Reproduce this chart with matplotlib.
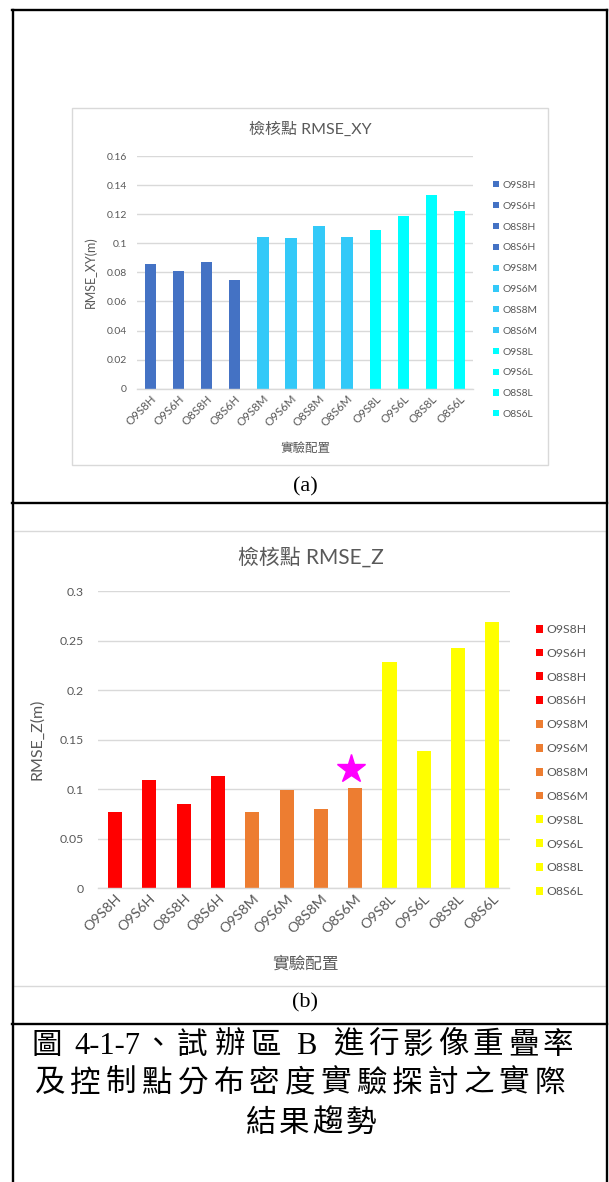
import matplotlib
matplotlib.use("Agg")
import matplotlib.pyplot as plt
from matplotlib.patches import Rectangle
from matplotlib.lines import Line2D

plt.rcParams['font.family'] = ['Lato', 'Noto Sans CJK TC', 'DejaVu Sans']

# ---------------- data ----------------
configs = ["O9S8H", "O9S6H", "O8S8H", "O8S6H",
           "O9S8M", "O9S6M", "O8S8M", "O8S6M",
           "O9S8L", "O9S6L", "O8S8L", "O8S6L"]
rmse_xy = [0.086, 0.081, 0.087, 0.0745,
           0.104, 0.1035, 0.112, 0.104,
           0.109, 0.119, 0.1335, 0.122]
rmse_z = [0.077, 0.109, 0.085, 0.113,
          0.077, 0.0995, 0.080, 0.101,
          0.228, 0.139, 0.242, 0.269]
xy_colors = ["#4472C4"] * 4 + ["#33C9F8"] * 4 + ["#00FFFF"] * 4
z_colors = ["#FF0000"] * 4 + ["#ED7D31"] * 4 + ["#FFFF00"] * 4
star_x = 6.87
star_y = 0.12

title_xy = "檢核點 RMSE_XY"
title_z = "檢核點 RMSE_Z"
ylabel_xy = "RMSE_XY(m)"
ylabel_z = "RMSE_Z(m)"
xlabel = "實驗配置"
yticks_xy = [0, 0.02, 0.04, 0.06, 0.08, 0.1, 0.12, 0.14, 0.16]
yticks_z = [0, 0.05, 0.1, 0.15, 0.2, 0.25, 0.3]
caption_line1 = ["圖", "4-1-7", "、", "試", "辦", "區", "B", "進", "行", "影", "像", "重", "疊", "率"]
caption_line2 = list("及控制點分布密度實驗探討之實際")
caption_line3 = list("結果趨勢")

# ---------------- layout helpers ----------------
W, H = 609, 1182
fig = plt.figure(figsize=(W / 100, H / 100), dpi=100)
fig.patch.set_facecolor("white")


def fx(x):
    return x / W


def fy(y):
    return 1 - y / H


def axes_px(x0, y0, x1, y1):
    return fig.add_axes([fx(x0), fy(y1), (x1 - x0) / W, (y1 - y0) / H])


TXT = "#595959"
GRID = "#D9D9D9"

# chart frames (light grey boxes)
fig.patches.append(Rectangle((fx(72), fy(465)), (548 - 72) / W, (465 - 108) / H,
                             transform=fig.transFigure, fill=False,
                             edgecolor=GRID, linewidth=1.0))
fig.patches.append(Rectangle((fx(13), fy(986)), (606 - 13) / W, (986 - 531) / H,
                             transform=fig.transFigure, fill=False,
                             edgecolor=GRID, linewidth=1.0))

# black table borders
lw = 1.7
for (xa, ya, xb, yb) in [(12.5, 10, 12.5, 1182), (606.5, 10, 606.5, 1182),
                         (12, 10, 607, 10), (12, 503, 607, 503), (12, 1024, 607, 1024)]:
    fig.add_artist(Line2D([fx(xa), fx(xb)], [fy(ya), fy(yb)], transform=fig.transFigure,
                          color="black", linewidth=lw, solid_capstyle="projecting"))


def style_axes(ax, yticks, ylim, ytick_fs, xtick_fs, pad):
    ax.set_xlim(-0.5, len(configs) - 0.5)
    ax.set_ylim(*ylim)
    ax.set_yticks(yticks)
    ax.set_yticklabels([("%g" % v) for v in yticks])
    ax.set_xticks(range(len(configs)))
    ax.set_xticklabels(configs, rotation=45, ha="right", rotation_mode="anchor")
    for s in ["top", "right", "left"]:
        ax.spines[s].set_visible(False)
    ax.spines["bottom"].set_color(GRID)
    ax.spines["bottom"].set_linewidth(1.0)
    ax.grid(axis="y", color=GRID, linewidth=1.0)
    ax.set_axisbelow(True)
    ax.tick_params(axis="both", length=0, colors=TXT)
    ax.tick_params(axis="y", pad=pad, labelsize=ytick_fs)
    ax.tick_params(axis="x", pad=3, labelsize=xtick_fs)
    ax.set_facecolor("none")


# ---------------- chart (a) ----------------
ax1 = axes_px(136.7, 156, 473.3, 388.7)
bars1 = ax1.bar(range(len(configs)), rmse_xy, width=0.4, color=xy_colors)
style_axes(ax1, yticks_xy, (0, 0.16), 7.5, 8.3, 7)
ax1.set_ylabel(ylabel_xy, color=TXT, fontsize=9)
ax1.yaxis.set_label_coords(-0.118, 0.5)
ax1.set_xlabel(xlabel, color=TXT, fontsize=9)
ax1.xaxis.set_label_coords(0.5, -0.229)
for b, lab in zip(bars1, configs):
    b.set_label(lab)
leg1 = ax1.legend(handles=list(bars1), loc="upper left",
                  bbox_to_anchor=(fx(493), fy(181)), bbox_transform=fig.transFigure,
                  frameon=False, fontsize=7.4, handlelength=0.55, handleheight=0.55,
                  handletextpad=0.35, labelspacing=1.15, borderpad=0, borderaxespad=0)
for t in leg1.get_texts():
    t.set_color(TXT)
fig.text(fx(310), fy(129), title_xy, ha="center", va="center", color=TXT, fontsize=11.5)
fig.text(fx(305), fy(487), "(a)", ha="center", va="center", color="black",
         fontsize=16, family="Liberation Serif")

# ---------------- chart (b) ----------------
ax2 = axes_px(98, 591, 509.5, 888.3)
bars2 = ax2.bar(range(len(configs)), rmse_z, width=0.41, color=z_colors)
style_axes(ax2, yticks_z, (0, 0.3), 8.8, 10.3, 10)
ax2.set_ylabel(ylabel_z, color=TXT, fontsize=11.5)
ax2.yaxis.set_label_coords(-0.1295, 0.5)
ax2.set_xlabel(xlabel, color=TXT, fontsize=12)
ax2.xaxis.set_label_coords(0.503, -0.2277)
for b, lab in zip(bars2, configs):
    b.set_label(lab)
leg2 = ax2.legend(handles=list(bars2), loc="upper left",
                  bbox_to_anchor=(fx(535.5), fy(624)), bbox_transform=fig.transFigure,
                  frameon=False, fontsize=8.8, handlelength=0.6, handleheight=0.6,
                  handletextpad=0.3, labelspacing=1.05, borderpad=0, borderaxespad=0)
for t in leg2.get_texts():
    t.set_color(TXT)
ax2.plot([star_x], [star_y], marker="*", markersize=21, color="#FF00FF",
         linestyle="none", clip_on=False, zorder=5)
fig.text(fx(311), fy(557), title_z, ha="center", va="center", color=TXT, fontsize=15)
fig.text(fx(305), fy(1003), "(b)", ha="center", va="center", color="black",
         fontsize=16, family="Liberation Serif")

# ---------------- caption ----------------
cap_font = ["Liberation Serif", "Noto Sans CJK TC"]
cap_fs = 22
line1_x = [47, 107, 157, 192, 230, 265, 306, 348, 383, 418, 453, 488, 523, 558]
for tok, x in zip(caption_line1, line1_x):
    fig.text(fx(x), fy(1046), tok, ha="center", va="center", fontsize=cap_fs,
             family=cap_font, color="black")
pitch = 35.7
for i, ch in enumerate(caption_line2):
    fig.text(fx(50 + i * pitch), fy(1084), ch, ha="center", va="center", fontsize=cap_fs,
             family=cap_font, color="black")
n3 = len(caption_line3)
for i, ch in enumerate(caption_line3):
    fig.text(fx(311 + (i - (n3 - 1) / 2) * 33), fy(1124), ch, ha="center", va="center",
             fontsize=cap_fs, family=cap_font, color="black")

fig.savefig("out.png", dpi=100)
